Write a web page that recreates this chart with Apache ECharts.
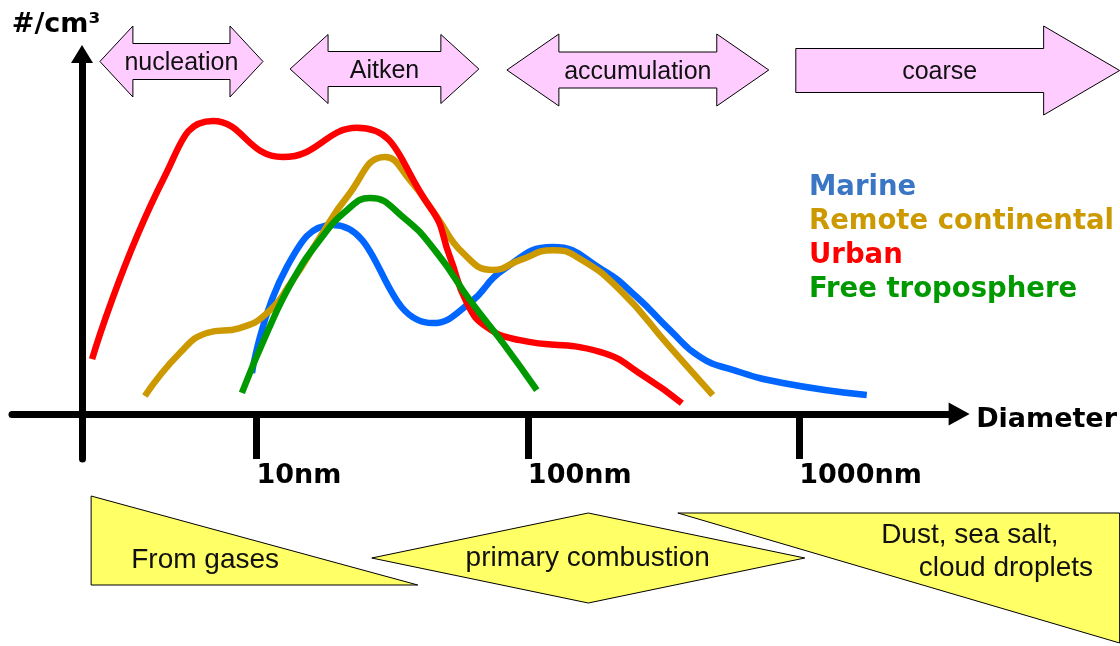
<!DOCTYPE html>
<html>
<head>
<meta charset="utf-8">
<script src="https://cdn.jsdelivr.net/npm/echarts@6/dist/echarts.min.js"></script>
<style>html,body{margin:0;padding:0;background:#fff}#c{width:1120px;height:646px}</style>
</head>
<body>
<div id="c"></div>
<script>
// ---- data ----
const seriesNames = ['Marine', 'Remote continental', 'Urban', 'Free troposphere'];

const marineD = [9.63, 12.95, 19.13, 44.68, 61.15, 80.90, 123.6, 188.9, 252.0, 333.4, 430.0, 569.0, 869.5, 1773];
const marineN = [9.1, 32.7, 42.0, 20.2, 24.7, 32.0, 37.1, 32.0, 26.0, 18.7, 12.7, 9.8, 6.9, 4.2];

const remoteD = [3.88, 5.23, 6.57, 8.69, 10.93, 13.63, 17.14, 21.54, 29.74, 36.76, 46.22, 57.62, 74.32, 93.44, 123.6, 151.5, 218.2, 333.4, 480.1];
const remoteN = [4.0, 13.6, 18.0, 19.1, 22.4, 29.8, 39.3, 48.2, 57.1, 52.0, 43.8, 35.8, 32.0, 34.2, 36.4, 34.9, 27.6, 14.9, 4.2];

const urbanD = [2.48, 4.60, 6.92, 12.52, 23.46, 43.55, 51.62, 59.61, 70.63, 93.44, 184.2, 269.7, 369.3];
const urbanN = [12.2, 52.9, 65.1, 57.1, 63.6, 46.0, 34.9, 24.7, 19.3, 16.4, 13.8, 8.3, 2.4];

const freeD = [8.84, 10.93, 13.63, 17.14, 21.54, 26.18, 34.64, 46.22, 61.15, 80.90, 107.9];
const freeN = [4.7, 18.0, 29.8, 38.7, 45.3, 48.0, 43.8, 35.8, 25.3, 15.8, 5.3];

const tickDiametersNm = [10, 100, 1000];

const modeNames = ['nucleation', 'Aitken', 'accumulation', 'coarse'];
const modeFromNm = [2.65, 13.3, 83.7, 971];
const modeToNm = [10.57, 66.0, 772, 15150];
const modeDouble = [true, true, true, false];

const sourceNames = ['From gases', 'primary combustion', 'Dust, sea salt,|cloud droplets'];
const sourceFromNm = [2.46, 26.6, 357];
const sourceToNm = [39.3, 1048, 15150];
const sourceShape = ['triLeft', 'rhombus', 'triRight'];

// ---- styles / layout ----
const lineColors = ['#0066ff', '#cc9900', '#ff0000', '#009900'];
const legendColors = ['#3a76c4', '#cc9900', '#ff0000', '#009900'];
const modeLayout = [
  {cy: 61.5, head: 35.5, body: 18, headLen: 33, tdx: 0, ty: 63},
  {cy: 69, head: 34.5, body: 17.5, headLen: 38, tdx: 0, ty: 71},
  {cy: 70, head: 36, body: 18, headLen: 52, tdx: 0, ty: 72},
  {cy: 70.5, head: 44.5, body: 22, headLen: 76, tdx: -18, ty: 72}
];
const sourceLayout = [
  {top: 496, bottom: 585, texts: [[114, 560]]},
  {top: 513, bottom: 603, mid: 558, texts: [[216, 558]]},
  {top: 513, bottom: 643, texts: [[292, 535], [328, 568]]}
];

const boldFont = '"DejaVu Sans", sans-serif';
const plainFont = '"Liberation Sans", Arial, sans-serif';

function toPts(d, n) { return d.map((v, i) => [Math.log10(v), n[i]]); }
const curves = [toPts(marineD, marineN), toPts(remoteD, remoteN), toPts(urbanD, urbanN), toPts(freeD, freeN)];

const chart = echarts.init(document.getElementById('c'), null, {renderer: 'canvas'});

const lineSeries = seriesNames.map((name, i) => ({
  name: name,
  type: 'line',
  data: curves[i],
  smooth: 0.5,
  showSymbol: false,
  symbol: 'none',
  lineStyle: {color: lineColors[i], width: 6.5, cap: 'butt'},
  itemStyle: {color: lineColors[i]},
  z: 3 + i
}));

const modeSeries = {
  name: 'modes',
  type: 'custom',
  coordinateSystem: 'cartesian2d',
  clip: false,
  silent: true,
  encode: {x: [0, 1], y: 2},
  data: modeNames.map((n, i) => [Math.log10(modeFromNm[i]), Math.log10(modeToNm[i]), 0]),
  renderItem: function (params, api) {
    const i = params.dataIndex;
    const x0 = api.coord([api.value(0), 0])[0];
    const x1 = api.coord([api.value(1), 0])[0];
    const L = modeLayout[i];
    const cy = L.cy, h = L.head, b = L.body, hl = L.headLen;
    let pts;
    if (modeDouble[i]) {
      pts = [[x0, cy], [x0 + hl, cy - h], [x0 + hl, cy - b], [x1 - hl, cy - b], [x1 - hl, cy - h], [x1, cy],
             [x1 - hl, cy + h], [x1 - hl, cy + b], [x0 + hl, cy + b], [x0 + hl, cy + h]];
    } else {
      pts = [[x0, cy - b], [x1 - hl, cy - b], [x1 - hl, cy - h], [x1, cy], [x1 - hl, cy + h], [x1 - hl, cy + b], [x0, cy + b]];
    }
    return {
      type: 'group',
      children: [
        {type: 'polygon', shape: {points: pts}, style: {fill: '#ffccff', stroke: '#000', lineWidth: 1}},
        {type: 'text', style: {x: (x0 + x1) / 2 + L.tdx, y: L.ty, text: modeNames[i], fill: '#111', font: '25px ' + plainFont, align: 'center', verticalAlign: 'middle'}}
      ]
    };
  }
};

const sourceSeries = {
  name: 'sources',
  type: 'custom',
  coordinateSystem: 'cartesian2d',
  clip: false,
  silent: true,
  encode: {x: [0, 1], y: 2},
  data: sourceNames.map((n, i) => [Math.log10(sourceFromNm[i]), Math.log10(sourceToNm[i]), 0]),
  renderItem: function (params, api) {
    const i = params.dataIndex;
    const x0 = api.coord([api.value(0), 0])[0];
    const x1 = api.coord([api.value(1), 0])[0];
    const L = sourceLayout[i];
    let pts;
    if (sourceShape[i] === 'triLeft') {
      pts = [[x0, L.top], [x1, L.bottom], [x0, L.bottom]];
    } else if (sourceShape[i] === 'rhombus') {
      const xm = (x0 + x1) / 2;
      pts = [[x0, L.mid], [xm, L.top], [x1, L.mid], [xm, L.bottom]];
    } else {
      pts = [[x0, L.top], [x1, L.top], [x1, L.bottom]];
    }
    const lines = sourceNames[i].split('|');
    const children = [{type: 'polygon', shape: {points: pts}, style: {fill: '#ffff66', stroke: '#000', lineWidth: 1}}];
    lines.forEach((t, k) => {
      children.push({type: 'text', style: {x: x0 + L.texts[k][0], y: L.texts[k][1], text: t, fill: '#111', font: '28px ' + plainFont, align: 'center', verticalAlign: 'middle'}});
    });
    return {type: 'group', children: children};
  }
};

chart.setOption({
  animation: false,
  backgroundColor: '#fff',
  grid: {left: 12, right: 160.5, top: 54, bottom: 187, containLabel: false},
  legend: {
    data: seriesNames.map((n, i) => ({name: n, textStyle: {color: legendColors[i]}})),
    orient: 'vertical',
    left: 803,
    top: 171,
    itemWidth: 0,
    itemHeight: 0,
    itemGap: 0,
    padding: 0,
    selectedMode: false,
    textStyle: {fontFamily: boldFont, fontWeight: 'bold', fontSize: 27.5, lineHeight: 34}
  },
  xAxis: {
    type: 'value',
    min: 0.0994,
    max: 3.589,
    position: 'bottom',
    offset: -45,
    axisLine: {show: true, onZero: false, symbol: ['none', 'triangle'], symbolSize: [23, 21], lineStyle: {color: '#000', width: 7}},
    axisTick: {show: true, customValues: tickDiametersNm.map(v => Math.log10(v)), length: 45, lineStyle: {color: '#000', width: 7}},
    axisLabel: {
      show: true,
      customValues: tickDiametersNm.map(v => Math.log10(v)),
      formatter: v => Math.round(Math.pow(10, v)) + 'nm',
      align: 'left',
      margin: 48,
      color: '#000',
      fontFamily: boldFont,
      fontWeight: 'bold',
      fontSize: 27,
      lineHeight: 27
    },
    splitLine: {show: false},
    name: 'Diameter',
    nameLocation: 'end',
    nameGap: 17,
    nameTextStyle: {color: '#000', fontFamily: boldFont, fontWeight: 'bold', fontSize: 27, align: 'left', verticalAlign: 'top', lineHeight: 12}
  },
  yAxis: {
    type: 'value',
    min: -10,
    max: 80,
    position: 'left',
    offset: -70,
    axisLine: {show: true, onZero: false, symbol: ['none', 'triangle'], symbolSize: [22, 18], lineStyle: {color: '#000', width: 7}},
    axisTick: {show: false},
    axisLabel: {show: false},
    splitLine: {show: false},
    name: '#/cm³',
    nameLocation: 'end',
    nameGap: 16,
    nameTextStyle: {color: '#000', fontFamily: boldFont, fontWeight: 'bold', fontSize: 27, align: 'center', padding: [0, 52, 0, 0]}
  },
  series: [modeSeries, sourceSeries].concat(lineSeries)
});
</script>
</body>
</html>
